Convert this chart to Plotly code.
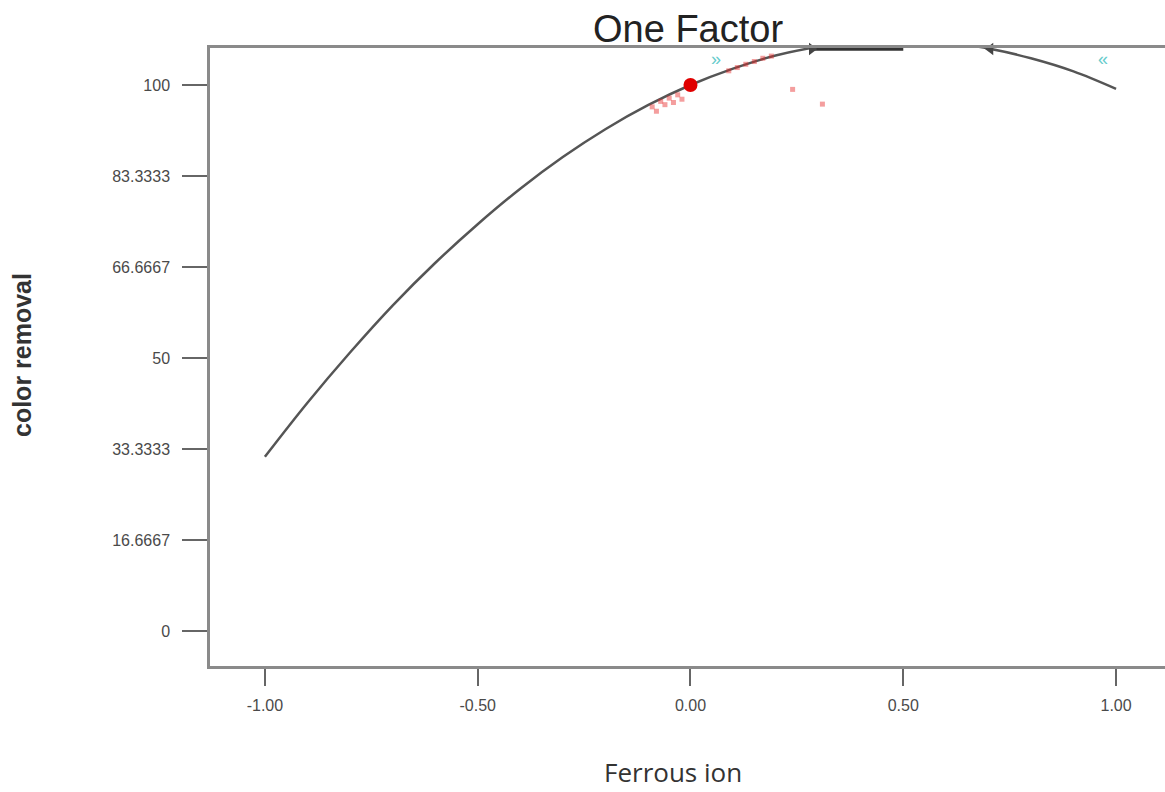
import plotly.graph_objects as go

# Data
ferrous_ion = [-1.0, -0.9, -0.8, -0.7, -0.6, -0.5, -0.4, -0.3, -0.2, -0.1, 0.0,
               0.1, 0.2, 0.3, 0.4, 0.5, 0.6, 0.7, 0.8, 0.9, 1.0]
color_removal = [31.9, 41.8, 51.0, 59.6, 67.4, 74.5, 81.0, 86.8, 91.9, 96.3, 100.0,
                 103.0, 105.4, 107.0, 108.0, 108.2, 107.8, 106.7, 104.9, 102.5, 99.3]

design_x = [0.0]
design_y = [100.0]

# faint red residue marks around the design point
smudge_x = [-0.09, -0.08, -0.07, -0.06, -0.05, -0.04, -0.03, -0.02, 0.09, 0.11, 0.13, 0.15, 0.17, 0.19, 0.24, 0.31]
smudge_y = [96.0, 95.2, 97.0, 96.4, 97.6, 96.8, 98.2, 97.4, 102.6, 103.2, 103.8, 104.3, 104.9, 105.3, 99.2, 96.5]

x_ticks = [-1.0, -0.5, 0.0, 0.5, 1.0]
x_tick_labels = ["-1.00", "-0.50", "0.00", "0.50", "1.00"]
y_ticks = [0, 16.6667, 33.3333, 50, 66.6667, 83.3333, 100]
y_tick_labels = ["0", "16.6667", "33.3333", "50", "66.6667", "83.3333", "100"]

x_range = [-1.129, 1.115]
y_range = [-6.41, 106.78]

# clipped top segment and limit arrows
top_seg_x = [0.29, 0.50]
top_level = 106.6

fig = go.Figure()

fig.add_trace(go.Scatter(
    x=ferrous_ion, y=color_removal, mode="lines",
    line=dict(color="#555555", width=2.5, shape="spline"),
    showlegend=False, hoverinfo="skip"))

fig.add_trace(go.Scatter(
    x=top_seg_x, y=[top_level, top_level], mode="lines",
    line=dict(color="#333333", width=3.5),
    showlegend=False, cliponaxis=False, hoverinfo="skip"))

fig.add_trace(go.Scatter(
    x=[0.285, 0.705], y=[top_level, top_level], mode="markers",
    marker=dict(symbol=["triangle-right", "triangle-left"], size=11, color="#444444"),
    showlegend=False, cliponaxis=False, hoverinfo="skip"))

fig.add_trace(go.Scatter(
    x=smudge_x, y=smudge_y, mode="markers",
    marker=dict(size=5, color="rgba(230,40,40,0.45)", symbol="square"),
    showlegend=False, hoverinfo="skip"))

fig.add_trace(go.Scatter(
    x=design_x, y=design_y, mode="markers",
    marker=dict(size=14, color="#e00000"),
    showlegend=False))

fig.update_layout(
    width=1165, height=792,
    margin=dict(l=210, r=0, t=48, b=126),
    paper_bgcolor="white", plot_bgcolor="white",
    font=dict(family="Liberation Sans, Arial, sans-serif", color="#444444"),
    showlegend=False,
)

fig.update_xaxes(
    range=x_range, tickvals=x_ticks, ticktext=x_tick_labels,
    showgrid=False, zeroline=False,
    showline=True, linecolor="#8a8a8a", linewidth=2.5, mirror=True,
    ticks="outside", ticklen=17, tickwidth=2, tickcolor="#666666",
    ticklabelstandoff=6,
    tickfont=dict(size=16, color="#4a4a4a"),
)
fig.update_yaxes(
    range=y_range, tickvals=y_ticks, ticktext=y_tick_labels,
    showgrid=False, zeroline=False,
    showline=True, linecolor="#8a8a8a", linewidth=2.5,
    ticks="outside", ticklen=25, tickwidth=2, tickcolor="#666666",
    ticklabelstandoff=9,
    tickfont=dict(size=16, color="#4a4a4a"),
)

fig.add_annotation(
    text="One Factor", xref="paper", yref="paper", x=0.5, y=1.03,
    xanchor="center", yanchor="middle", showarrow=False,
    font=dict(size=38, color="#222222", family="Liberation Sans, Arial, sans-serif"))

fig.add_annotation(
    text="Ferrous ion", xref="paper", yref="paper", x=0.485, y=-0.172,
    xanchor="center", yanchor="middle", showarrow=False,
    font=dict(size=26, color="#333333", family="Open Sans, sans-serif"))

fig.add_annotation(
    text="<b>color removal</b>", xref="paper", yref="paper", x=-0.197, y=0.503,
    xanchor="center", yanchor="middle", showarrow=False, textangle=-90,
    font=dict(size=25, color="#333333", family="Liberation Sans, Arial, sans-serif"))

# faint cyan chevrons near the top edge
fig.add_annotation(text="»", x=0.06, y=104.8, xref="x", yref="y", showarrow=False,
                   font=dict(size=18, color="#66cccc"))
fig.add_annotation(text="«", x=0.97, y=104.8, xref="x", yref="y", showarrow=False,
                   font=dict(size=18, color="#66cccc"))

fig.write_html(
    "out.html",
    config={"displayModeBar": False},
    post_script="document.body.style.margin='0';document.body.style.overflow='hidden';",
)
